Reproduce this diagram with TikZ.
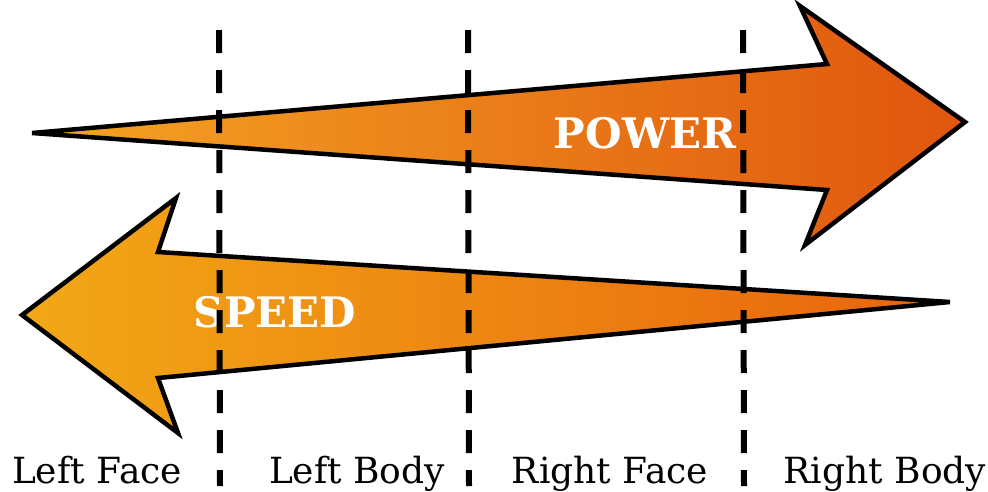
\documentclass[tikz,border=0pt]{standalone}
\usepackage{fontspec}
\newfontfamily\labelfont{DejaVu Serif}
\newfontfamily\bigfont{DejaVu Serif}
\definecolor{powL}{HTML}{F4A424}
\definecolor{powR}{HTML}{E0560E}
\definecolor{spdL}{HTML}{F2A816}
\definecolor{spdR}{HTML}{E8640E}
\tikzset{
  bigarrow/.style={draw=black, line width=4.5pt, line join=miter, miter limit=6},
  dashline/.style={line width=6pt, dash pattern=on 23pt off 17pt},
  lab/.style={font=\labelfont\fontsize{36}{36}\selectfont, anchor=base, inner sep=0pt},
  word/.style={font=\bigfont\bfseries\fontsize{42}{42}\selectfont, text=white, inner sep=0pt}
}
\begin{document}
\begin{tikzpicture}[x=1pt,y=-1pt]
\useasboundingbox (0,0) rectangle (988,491);
\fill[white] (0,0) rectangle (988,491);
% POWER arrow (pointing right)
\shadedraw[bigarrow, left color=powL, right color=powR]
  (32,133) -- (827,64) -- (800,6) -- (965,122) -- (805,245) -- (827,190) -- cycle;
% SPEED arrow (pointing left)
\shadedraw[bigarrow, left color=spdL, right color=spdR]
  (950,302) -- (158,252) -- (176,198) -- (22,315) -- (178,433) -- (158,378) -- cycle;
\node[word] (power) at (645,133) {POWER};
\node[word] (speed) at (275,312) {SPEED};
% dividing lines
\coordinate (t1) at (219,30); \coordinate (b1) at (220,486);
\coordinate (t2) at (468,30); \coordinate (b2) at (469,486);
\coordinate (t3) at (743,30); \coordinate (b3) at (744,486);
\foreach \i in {1,2,3}{
  \draw[dashline] (t\i) -- (b\i);
}
% labels
\node[lab] (lf) at (97,483) {Left Face};
\node[lab] (lb) at (357,483) {Left Body};
\node[lab] (rf) at (610,483) {Right Face};
\node[lab] (rb) at (885,483) {Right Body};
\end{tikzpicture}
\end{document}
